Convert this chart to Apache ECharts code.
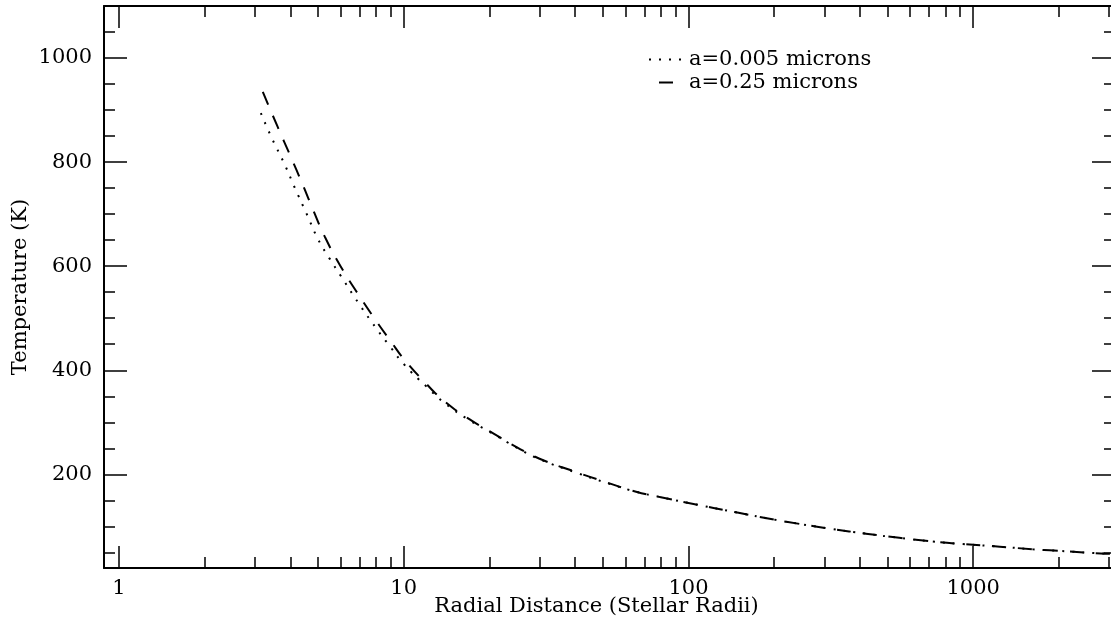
<!DOCTYPE html>
<html><head><meta charset="utf-8">
<script src="https://cdn.jsdelivr.net/npm/echarts@6/dist/echarts.min.js"></script>
<style>html,body{margin:0;padding:0;background:#fff}#c{width:1111px;height:627px}</style>
</head><body><div id="c"></div>
<script>
// Data (radial distance in stellar radii, temperature in K)
const seriesNames = ['a=0.005 microns', 'a=0.25 microns'];
const radiusSmall = [3.15, 3.45, 3.8, 4.15, 4.55, 5.0, 5.5, 6.0, 7.0, 8.0, 9.0, 10, 12, 14, 17, 20, 25, 30, 40, 50, 65, 80, 100, 150, 200, 250, 320, 420, 550, 720, 920, 1240, 1620, 2130, 2800, 3200];
const tempSmall   = [894, 845, 798, 750, 702, 652, 614, 582, 526, 481, 444, 412, 369, 336, 304, 282, 251, 229, 204, 186, 167, 156, 145, 126, 113, 104, 95, 86, 78, 71, 66, 61, 56, 52, 48, 47];
const radiusLarge = [3.2, 3.6, 4.0, 4.4, 4.8, 5.3, 6.0, 7.0, 8.0, 9.0, 10, 12, 14, 17, 20, 25, 30, 40, 50, 65, 80, 100, 150, 200, 250, 320, 420, 550, 720, 920, 1240, 1620, 2130, 2800, 3200];
const tempLarge   = [935, 869, 812, 759, 709, 655, 600, 542, 495, 456, 422, 374, 339, 306, 283, 252, 230, 205, 187, 167, 156, 145, 126, 113, 104, 95, 86, 78, 71, 66, 61, 56, 52, 48, 47];
const xTickLabels = [1, 10, 100, 1000];
const xMinorMultipliers = [2, 3, 4, 5, 6, 7, 8, 9];
const yTickLabels = [200, 400, 600, 800, 1000];
const yMinorValues = [50, 100, 150, 250, 300, 350, 450, 500, 550, 650, 700, 750, 850, 900, 950, 1050];

const X_MIN = Math.log10(0.886), X_MAX = 3.498;
const Y_MIN = 20, Y_MAX = 1100;
const FONT = 'DejaVu Serif';
const FS = 21;
const xMajor = xTickLabels.map(v => Math.log10(v));
const xMinor = [];
xTickLabels.forEach(d => xMinorMultipliers.forEach(k => xMinor.push(Math.log10(k * d))));

function xAx(pos, major) {
  const a = {
    type: 'value', position: pos, min: X_MIN, max: X_MAX,
    axisLine: { show: major, onZero: false, lineStyle: { color: '#000', width: 2 } },
    axisTick: { show: true, inside: true, length: major ? 22 : 11, lineStyle: { color: '#000', width: 1.5 }, customValues: major ? xMajor : xMinor },
    axisLabel: { show: false },
    splitLine: { show: false }
  };
  if (pos === 'bottom' && major) {
    a.axisLabel = { show: true, customValues: xMajor, margin: 10, color: '#000', fontFamily: FONT, fontSize: FS,
      formatter: v => String(Math.round(Math.pow(10, v))) };
    a.name = 'Radial Distance (Stellar Radii)';
    a.nameLocation = 'middle';
    a.nameGap = 28;
    a.nameMoveOverlap = false;
    a.nameTextStyle = { color: '#000', fontFamily: FONT, fontSize: FS, padding: [0, 26, 0, 0] };
  }
  return a;
}
function yAx(pos, major) {
  const a = {
    type: 'value', position: pos, min: Y_MIN, max: Y_MAX,
    axisLine: { show: major, onZero: false, lineStyle: { color: '#000', width: 2 } },
    axisTick: { show: true, inside: true, length: major ? 23 : 11, lineStyle: { color: '#000', width: 1.5 }, customValues: major ? yTickLabels : yMinorValues },
    axisLabel: { show: false },
    splitLine: { show: false }
  };
  if (pos === 'left' && major) {
    a.axisLabel = { show: true, customValues: yTickLabels, margin: 12, color: '#000', fontFamily: FONT, fontSize: FS,
      formatter: v => String(v) };
    a.name = 'Temperature (K)';
    a.nameLocation = 'middle';
    a.nameGap = 73;
    a.nameMoveOverlap = false;
    a.nameTextStyle = { color: '#000', fontFamily: FONT, fontSize: FS };
  }
  return a;
}

const chart = echarts.init(document.getElementById('c'), null, { renderer: 'canvas' });
chart.setOption({
  animation: false,
  backgroundColor: '#fff',
  grid: { left: 104, right: -4, top: 6, bottom: 59, containLabel: false, outerBoundsMode: 'none' },
  xAxis: [xAx('bottom', true), xAx('bottom', false), xAx('top', true), xAx('top', false)],
  yAxis: [yAx('left', true), yAx('left', false), yAx('right', true), yAx('right', false)],
  legend: {
    orient: 'vertical', left: 648, top: 49, padding: 0, itemWidth: 35, itemHeight: 14, itemGap: 2,
    textStyle: { color: '#000', fontFamily: FONT, fontSize: FS },
    itemStyle: { color: 'rgba(0,0,0,0)', borderWidth: 0, opacity: 0 },
    data: [
      { name: seriesNames[0], lineStyle: { type: [2, 8], width: 2, color: '#000', cap: 'butt' } },
      { name: seriesNames[1], lineStyle: { type: [14, 100], dashOffset: 104, width: 2, color: '#000', cap: 'butt' } }
    ]
  },
  series: [
    { name: seriesNames[0], type: 'line', xAxisIndex: 0, yAxisIndex: 0, symbol: 'none', smooth: true,
      itemStyle: { color: '#000' },
      lineStyle: { color: '#000', width: 2, type: [2, 8], cap: 'butt' },
      data: radiusSmall.map((r, i) => [Math.log10(r), tempSmall[i]]) },
    { name: seriesNames[1], type: 'line', xAxisIndex: 0, yAxisIndex: 0, symbol: 'none', smooth: true,
      itemStyle: { color: '#000' },
      lineStyle: { color: '#000', width: 2, type: [14, 12], cap: 'butt' },
      data: radiusLarge.map((r, i) => [Math.log10(r), tempLarge[i]]) }
  ]
});
</script></body></html>
